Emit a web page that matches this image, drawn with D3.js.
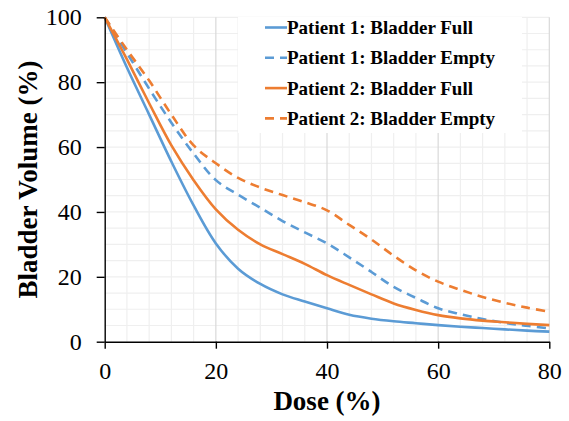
<!DOCTYPE html>
<html>
<head>
<meta charset="utf-8">
<script src="https://cdn.jsdelivr.net/npm/d3@7"></script>
<style>
  body { margin: 0; background: #fff; }
</style>
</head>
<body>
<svg id="chart" width="569" height="421" font-family="Liberation Serif"></svg>
<script>
// dose (%) sample points
var dose = [0, 4, 8, 12, 16, 20, 24, 28, 32, 36, 40, 44, 48, 52, 56, 60, 64, 68, 72, 76, 80];

// bladder volume (%)
var p1Full  = [100, 84.5, 70, 55.5, 42, 30.3, 22.5, 17.8, 14.6, 12.4, 10.3, 8.3, 7.1, 6.3, 5.7, 5.1, 4.6, 4.2, 3.8, 3.4, 3.1];
var p1Empty = [100, 89, 78, 67.5, 58, 49.8, 45.3, 41.3, 37.2, 33.7, 30.3, 26, 21.5, 16.9, 13.5, 10.3, 8.5, 7, 5.8, 4.9, 4.1];
var p2Full  = [100, 87, 73.5, 60.5, 49.8, 40.8, 34.5, 30, 27, 24, 20.5, 17.5, 14.6, 11.8, 9.8, 8.2, 7.2, 6.5, 6, 5.5, 5.1];
var p2Empty = [100, 90, 80.5, 70, 60.5, 55, 50.5, 47.5, 45.2, 43, 40.5, 36, 31.5, 26.5, 22, 18.5, 16, 13.8, 12, 10.5, 9.2];

var seriesNames = ["Patient 1: Bladder Full", "Patient 1: Bladder Empty",
                   "Patient 2: Bladder Full", "Patient 2: Bladder Empty"];
var seriesValues = [p1Full, p1Empty, p2Full, p2Empty];
var seriesColor = ["#5b9bd5", "#5b9bd5", "#ed7d31", "#ed7d31"];
var seriesDashed = [false, true, false, true];

var xTicks = [0, 20, 40, 60, 80];
var yTicks = [0, 20, 40, 60, 80, 100];

var svg = d3.select('#chart');

var x = d3.scaleLinear().domain([0, 80]).range([104.7, 549.3]);
var y = d3.scaleLinear().domain([0, 100]).range([341.7, 17.3]);

// gridlines: minor every 4 (x) / 5 (y), darker major verticals every 20
var grid = svg.append('g').attr('class', 'grid');
grid.selectAll('line.hminor')
    .data(d3.range(5, 101, 5))
    .enter().append('line')
    .attr('x1', x(0)).attr('x2', x(80))
    .attr('y1', function(d) { return y(d); })
    .attr('y2', function(d) { return y(d); })
    .attr('stroke', '#efefef').attr('stroke-width', 1.2);
grid.selectAll('line.vminor')
    .data(d3.range(4, 80, 4).filter(function(d) { return d % 20 != 0; }))
    .enter().append('line')
    .attr('y1', y(0)).attr('y2', y(100))
    .attr('x1', function(d) { return x(d); })
    .attr('x2', function(d) { return x(d); })
    .attr('stroke', '#efefef').attr('stroke-width', 1.2);
grid.selectAll('line.vmajor')
    .data([20, 40, 60, 80])
    .enter().append('line')
    .attr('y1', y(0)).attr('y2', y(100))
    .attr('x1', function(d) { return x(d); })
    .attr('x2', function(d) { return x(d); })
    .attr('stroke', '#d9d9d9').attr('stroke-width', 1.2);

// legend box hides the grid behind it
svg.append('rect')
    .attr('x', 238).attr('y', 17).attr('width', 284).attr('height', 116)
    .attr('fill', '#fff');

// curves
var line = d3.line()
    .x(function(d, i) { return x(dose[i]); })
    .y(function(d) { return y(d); })
    .curve(d3.curveCatmullRom.alpha(0.5));

svg.append('g').selectAll('path')
    .data(seriesValues)
    .enter().append('path')
    .attr('d', line)
    .attr('fill', 'none')
    .attr('stroke', function(d, i) { return seriesColor[i]; })
    .attr('stroke-width', 2.6)
    .attr('stroke-dasharray', function(d, i) { return seriesDashed[i] ? '9,6' : null; });

// axes
var yAxis = d3.axisLeft(y).tickValues(yTicks).tickSize(8).tickSizeOuter(0).tickPadding(15);
var xAxis = d3.axisBottom(x).tickValues(xTicks).tickSize(7).tickSizeOuter(0).tickPadding(13);

var gy = svg.append('g').attr('transform', 'translate(' + x(0) + ',0)').call(yAxis);
var gx = svg.append('g').attr('transform', 'translate(0,' + y(0) + ')').call(xAxis);

[gx, gy].forEach(function(g) {
  g.attr('font-family', 'Liberation Serif').attr('font-size', 24);
  g.select('.domain').attr('stroke', '#000').attr('stroke-width', 1.4);
  g.selectAll('.tick line').attr('stroke', '#000').attr('stroke-width', 1.4);
  g.selectAll('.tick text').attr('fill', '#000');
});

// axis titles
svg.append('text')
    .attr('x', (x(0) + x(80)) / 2).attr('y', 410)
    .attr('text-anchor', 'middle')
    .attr('font-size', 27).attr('font-weight', 'bold')
    .text('Dose (%)');

svg.append('text')
    .attr('transform', 'translate(37,' + (y(0) + y(100)) / 2 + ') rotate(-90)')
    .attr('text-anchor', 'middle')
    .attr('font-size', 27).attr('font-weight', 'bold')
    .text('Bladder Volume (%)');

// legend
var legend = svg.append('g').selectAll('g')
    .data(seriesNames)
    .enter().append('g')
    .attr('transform', function(d, i) { return 'translate(265,' + (27.5 + i * 30.3) + ')'; });

legend.append('line')
    .attr('x1', 0).attr('x2', 22)
    .attr('stroke', function(d, i) { return seriesColor[i]; })
    .attr('stroke-width', 2.6)
    .attr('stroke-dasharray', function(d, i) { return seriesDashed[i] ? '9,6' : null; });

legend.append('text')
    .attr('x', 22).attr('y', 6.5)
    .attr('font-size', 19).attr('font-weight', 'bold')
    .text(function(d) { return d; });
</script>
</body>
</html>
